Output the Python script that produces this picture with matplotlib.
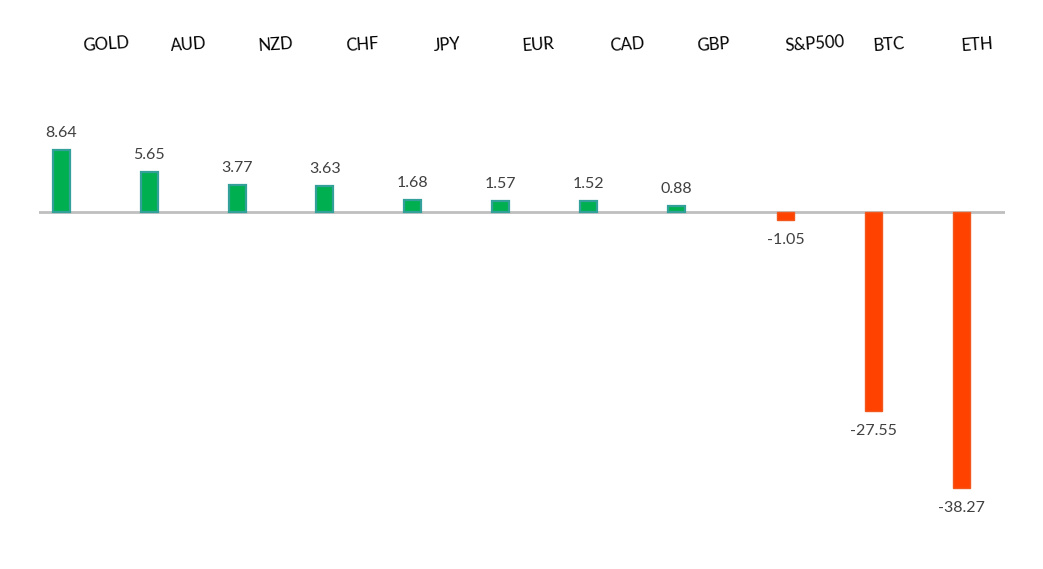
import matplotlib
matplotlib.use("Agg")
import matplotlib.pyplot as plt
import numpy as np

categories = ["GOLD", "AUD", "NZD", "CHF", "JPY", "EUR", "CAD", "GBP", "S&P500", "BTC", "ETH"]
values = [8.64, 5.65, 3.77, 3.63, 1.68, 1.57, 1.52, 0.88, -1.05, -27.55, -38.27]
value_labels = ["8.64", "5.65", "3.77", "3.63", "1.68", "1.57", "1.52", "0.88", "-1.05", "-27.55", "-38.27"]

plt.rcParams['font.family'] = ['Lato', 'DejaVu Sans']

fig = plt.figure(figsize=(10.43, 5.69), dpi=100)
ax = fig.add_axes([39/1043, 0.0, 966/1043, 1.0])

px = 7.2
zero_y = 212.3
ytop = zero_y / px
ybot = -(569 - zero_y) / px
ax.set_ylim(ybot, ytop)
ax.set_xlim(-0.5, len(categories) - 0.5)

x = np.arange(len(categories))
pos_offset = -0.245
neg_offset = 0.0
bw = 17 / 87.8

for i, v in enumerate(values):
    if v >= 0:
        xc = x[i] + pos_offset
        ax.bar(xc, v, width=bw, color="#00B050", edgecolor="#34A09A", linewidth=1.6, zorder=3)
        ax.text(xc, v + 17/px, value_labels[i], ha="center", va="center", fontsize=11.5, color="#404040")
    else:
        xc = x[i] + neg_offset
        ax.bar(xc, v, width=bw, color="#FF4200", edgecolor="#F2581E", linewidth=1.0, zorder=3)
        ax.text(xc, v - 20/px, value_labels[i], ha="center", va="center", fontsize=11.5, color="#404040")

ax.axhline(0, color="#BFBFBF", linewidth=2, zorder=2)

label_y = (zero_y - 51) / px
for i, c in enumerate(categories):
    ax.text(x[i], label_y, c, ha="left", va="baseline", fontsize=12, color="black",
            rotation=4, rotation_mode="anchor")

ax.axis("off")
fig.savefig("out.png", dpi=100)
